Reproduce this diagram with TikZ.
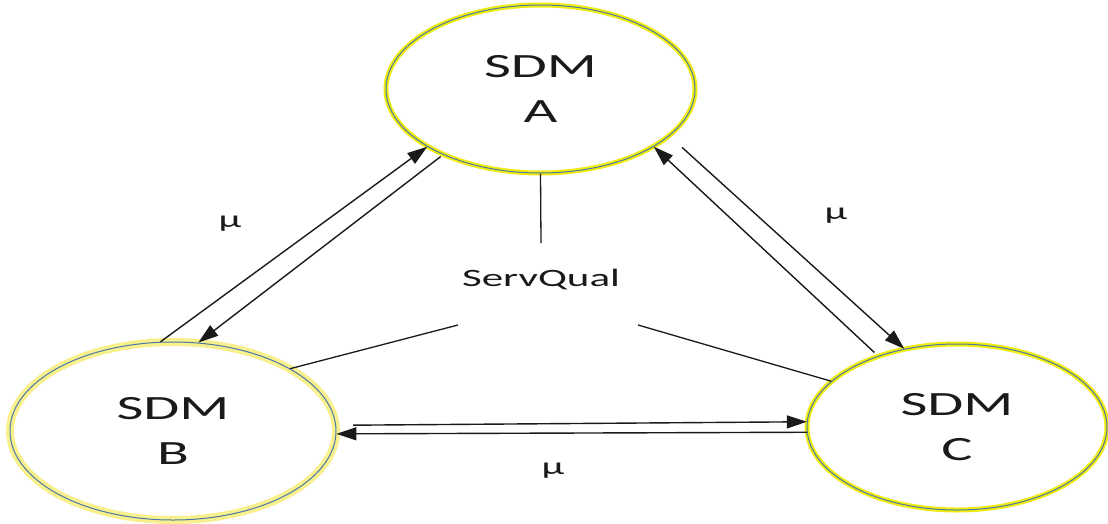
\documentclass[tikz,border=0pt]{standalone}
\usepackage{fontspec}
\setmainfont{Carlito}
\usetikzlibrary{arrows.meta,shapes.geometric}
\definecolor{ringblue}{HTML}{4A78A8}
\definecolor{ringyellow}{HTML}{F0EC10}
\definecolor{glowyellow}{HTML}{F8F08C}
\definecolor{ink}{HTML}{1A1A1A}
% the lettering is set wide
\newcommand{\wide}[1]{\scalebox{1.72}[1]{#1}}

\begin{document}
\begin{tikzpicture}[x=1pt,y=-1pt,
  sdm/.style={ellipse, inner sep=0pt, draw=ringblue, line width=1pt,
    preaction={draw=ringyellow, line width=5pt},
    align=center, font=\fontsize{34}{45}\selectfont, text=ink},
  flow/.style={draw=ink, line width=1.4pt, -{Triangle[length=20pt,width=13pt]}},
  tie/.style={draw=ink, line width=1.3pt},
  rate/.style={font=\fontsize{24}{24}\selectfont, text=ink, anchor=base, inner sep=0pt}]

\fill[white] (0,0) rectangle (1108,523);
\useasboundingbox (0,0) rectangle (1108,523);

% the three service-delivery models
\node[sdm, minimum width=309pt, minimum height=168pt] (A) at (540.5,89) {\wide{SDM}\\\wide{A}};
\node[sdm, preaction={draw=glowyellow, line width=8pt}, minimum width=326pt, minimum height=178pt] (B) at (173,431) {\wide{SDM}\\\wide{B}};
\node[sdm, minimum width=300pt, minimum height=166pt] (C) at (957,427) {\wide{SDM}\\\wide{C}};

% shared quality measure in the middle
\node[font=\fontsize{25}{25}\selectfont, text=ink, anchor=base, inner sep=0pt] (sq) at (541,286) {\wide{ServQual}};
\coordinate (sqtop) at (541,243);
\coordinate (sqleft) at (458,325);
\coordinate (sqright) at (638,325);

\draw[tie] (A.south) -- (sqtop);
\draw[tie] (B.28.3) -- (sqleft);
\draw[tie] (C.160.4) -- (sqright);

% exchange flows between the models
\draw[flow] (B.98.6) -- (A.207.2);
\draw[flow, shorten <=3pt] (A.214) -- (B.74.7);
\draw[flow, shorten <=5pt] (C.138.6) -- (A.333.2);
\draw[flow, shorten <=17pt] (A.340.4) -- (C.124.4);
\draw[flow, shorten <=17pt] (B.2.6) -- (C.178.5);
\draw[flow] (C.182.6) -- (B.359);

% flow rates
\node[rate] (m1) at (230,227) {\wide{μ}};
\node[rate] (m2) at (836,219) {\wide{μ}};
\node[rate] (m3) at (553,474) {\wide{μ}};
\end{tikzpicture}
\end{document}
